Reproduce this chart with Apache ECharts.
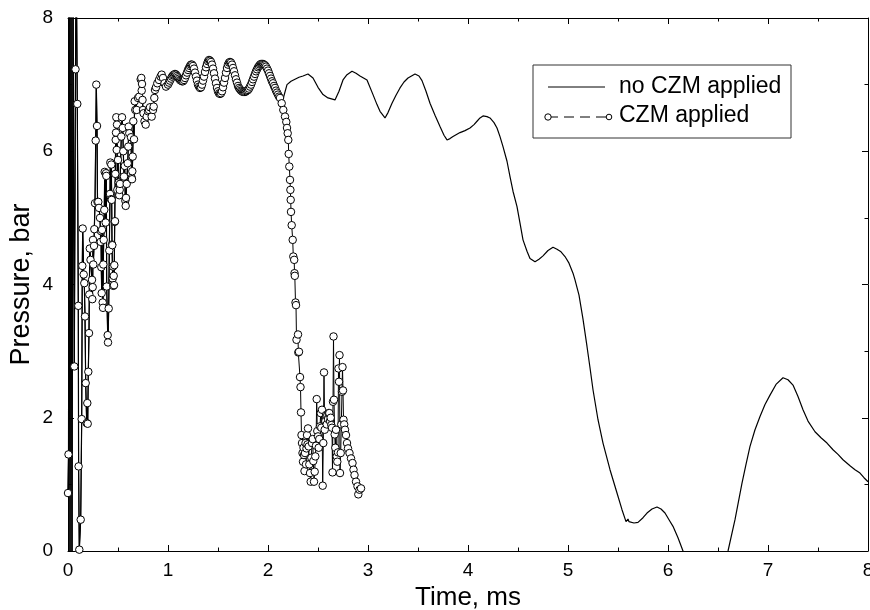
<!DOCTYPE html>
<html>
<head>
<meta charset="utf-8">
<script src="https://cdn.jsdelivr.net/npm/echarts@6/dist/echarts.min.js"></script>
<style>
  html, body { margin: 0; padding: 0; background: #fff; }
  #chart { width: 870px; height: 610px; }
</style>
</head>
<body>
<div id="chart"></div>
<script>
// Axis ticks: time in ms, pressure in bar
const timeTicks = [0, 1, 2, 3, 4, 5, 6, 7, 8];
const pressureTicks = [0, 2, 4, 6, 8];

// Both simulations follow the same history until the interface opens (~2.1 ms)
const sharedTime = [
  0.000, 0.005, 0.012, 0.020, 0.030, 0.040, 0.050, 0.063, 0.075, 0.082,
  0.093, 0.103, 0.106, 0.113, 0.127, 0.137, 0.143, 0.147, 0.157, 0.163,
  0.170, 0.177, 0.187, 0.193, 0.197, 0.203, 0.210, 0.213, 0.218, 0.225,
  0.240, 0.243, 0.247, 0.250, 0.253, 0.260, 0.263, 0.270, 0.277, 0.283,
  0.290, 0.295, 0.303, 0.310, 0.320, 0.327, 0.330, 0.333, 0.337, 0.340,
  0.347, 0.350, 0.353, 0.357, 0.363, 0.367, 0.377, 0.380, 0.383, 0.387,
  0.397, 0.400, 0.407, 0.413, 0.420, 0.423, 0.430, 0.433, 0.437, 0.440,
  0.443, 0.447, 0.450, 0.453, 0.457, 0.460, 0.463, 0.467, 0.470, 0.473,
  0.477, 0.480, 0.483, 0.487, 0.490, 0.493, 0.500, 0.507, 0.513, 0.517,
  0.520, 0.533, 0.540, 0.547, 0.553, 0.560, 0.567, 0.573, 0.577, 0.580,
  0.587, 0.597, 0.603, 0.607, 0.613, 0.630, 0.637, 0.640, 0.643, 0.647,
  0.653, 0.660, 0.667, 0.673, 0.687, 0.700, 0.713, 0.727, 0.733, 0.737,
  0.740, 0.745, 0.750, 0.755, 0.765, 0.777, 0.787, 0.800, 0.810, 0.820,
  0.837, 0.850, 0.857, 0.863, 0.870, 0.880, 0.893, 0.910, 0.925, 0.937,
  0.950, 0.965, 0.980,
  1.00, 1.01, 1.02, 1.03, 1.04, 1.05, 1.06, 1.07, 1.08, 1.09,
  1.10, 1.11, 1.12, 1.13, 1.14, 1.15, 1.16, 1.17, 1.18, 1.19,
  1.20, 1.21, 1.22, 1.23, 1.24, 1.25, 1.26, 1.27, 1.28, 1.29,
  1.30, 1.31, 1.32, 1.33, 1.34, 1.35, 1.36, 1.37, 1.38, 1.39,
  1.40, 1.41, 1.42, 1.43, 1.44, 1.45, 1.46, 1.47, 1.48, 1.49,
  1.50, 1.51, 1.52, 1.53, 1.54, 1.55, 1.56, 1.57, 1.58, 1.59,
  1.60, 1.61, 1.62, 1.63, 1.64, 1.65, 1.66, 1.67, 1.68, 1.69,
  1.70, 1.71, 1.72, 1.73, 1.74, 1.75, 1.76, 1.77, 1.78, 1.79,
  1.80, 1.81, 1.82, 1.83, 1.84, 1.85, 1.86, 1.87, 1.88, 1.89,
  1.90, 1.91, 1.92, 1.93, 1.94, 1.95, 1.96, 1.97, 1.98, 1.99,
  2.00, 2.01, 2.02, 2.03, 2.04, 2.05, 2.06, 2.07, 2.08, 2.09,
  2.10, 2.11, 2.12
];
const sharedPressure = [
  0.87, 1.45, 8.6, -0.2, 8.8, -0.2, 8.5, 2.77, 7.23, 9.0,
  6.71, 3.68, 1.27, 0.02, 0.47, 1.98, 4.28, 4.84, 4.15, 4.02,
  3.52, 2.52, 1.92, 2.22, 1.91, 2.69, 3.27, 3.85, 4.54, 4.37,
  4.07, 3.78, 3.96, 4.67, 4.30, 4.58, 4.83, 5.22, 6.16, 7.00,
  6.38, 5.24, 5.24, 5.15, 5.00, 4.64, 4.80, 4.26, 3.87, 4.82,
  3.73, 3.65, 4.30, 4.67, 5.12, 5.69, 4.93, 5.67, 5.63, 3.97,
  3.24, 3.13, 3.64, 4.51, 5.36, 5.83, 5.28, 5.80, 5.27, 4.60,
  4.59, 4.09, 4.27, 3.98, 4.13, 3.99, 4.29, 4.94, 4.95, 5.66,
  6.17, 6.28, 6.51, 6.02, 6.40, 5.42, 5.87, 5.53, 5.34, 5.42,
  5.51, 6.22, 6.51, 6.35, 6.00, 5.62, 5.78, 5.26, 5.18, 5.30,
  5.51, 5.82, 6.07, 6.37, 6.27, 6.21, 5.60, 5.58, 5.70, 5.92,
  6.45, 6.18, 6.75, 6.62, 6.62, 6.80, 6.82, 7.08, 7.10, 6.91,
  7.01, 6.77, 6.62, 6.57, 6.45, 6.40, 6.52, 6.60, 6.62, 6.66,
  6.52, 6.62, 6.67, 6.80, 6.92, 6.96, 7.02, 7.07, 7.12, 7.15,
  7.10, 7.02, 6.97,
  7.00, 7.03, 7.06, 7.09, 7.12, 7.14, 7.15, 7.16, 7.15, 7.13,
  7.11, 7.09, 7.07, 7.06, 7.05, 7.05, 7.07, 7.10, 7.14, 7.18,
  7.22, 7.25, 7.28, 7.30, 7.30, 7.28, 7.24, 7.18, 7.12, 7.06,
  7.00, 6.97, 6.95, 6.96, 7.00, 7.06, 7.12, 7.19, 7.26, 7.31,
  7.35, 7.37, 7.36, 7.34, 7.30, 7.24, 7.17, 7.09, 7.02, 6.95,
  6.90, 6.87, 6.86, 6.87, 6.90, 6.96, 7.03, 7.10, 7.18, 7.25,
  7.30, 7.33, 7.34, 7.33, 7.30, 7.25, 7.20, 7.14, 7.08, 7.03,
  6.98, 6.95, 6.93, 6.91, 6.90, 6.89, 6.89, 6.89, 6.90, 6.91,
  6.92, 6.94, 6.97, 7.00, 7.04, 7.08, 7.12, 7.16, 7.20, 7.23,
  7.26, 7.28, 7.30, 7.31, 7.31, 7.31, 7.30, 7.29, 7.27, 7.24,
  7.21, 7.17, 7.13, 7.09, 7.05, 7.02, 6.98, 6.95, 6.91, 6.88,
  6.85, 6.82, 6.80
];

// Without cohesive zone model: pressure keeps oscillating, then decays
const intactTime = [
  2.15, 2.19, 2.23, 2.27, 2.31, 2.35, 2.40, 2.45, 2.50, 2.55,
  2.60, 2.67, 2.71, 2.75, 2.79, 2.84, 2.88, 2.92, 2.99, 3.05,
  3.09, 3.12, 3.17, 3.20, 3.24, 3.28, 3.32, 3.36, 3.40, 3.47,
  3.51, 3.54, 3.58, 3.62, 3.67, 3.72, 3.76, 3.79, 3.82, 3.85,
  3.92, 3.97, 4.02, 4.06, 4.09, 4.12, 4.15, 4.19, 4.22, 4.26,
  4.29, 4.32, 4.35, 4.39, 4.42, 4.45, 4.49, 4.52, 4.55, 4.59,
  4.62, 4.67, 4.71, 4.75, 4.80, 4.85, 4.89, 4.93, 4.97, 5.01,
  5.05, 5.07, 5.11, 5.15, 5.19, 5.22, 5.25, 5.30, 5.35, 5.42,
  5.49, 5.54, 5.58, 5.59, 5.60, 5.61, 5.62, 5.66, 5.70, 5.75,
  5.79, 5.84, 5.89, 5.93, 5.97, 6.01, 6.05, 6.10, 6.15, 6.22,
  6.30, 6.40, 6.50, 6.60, 6.67, 6.74, 6.78, 6.82, 6.87, 6.92,
  6.97, 7.02, 7.08, 7.15, 7.20, 7.25, 7.30, 7.35, 7.40, 7.47,
  7.53, 7.59, 7.65, 7.70, 7.75, 7.82, 7.87, 7.92, 7.96, 8.00
];
const intactPressure = [
  6.78, 7.00, 7.05, 7.08, 7.11, 7.13, 7.16, 7.10, 6.96, 6.85,
  6.80, 6.77, 6.90, 7.07, 7.15, 7.20, 7.17, 7.13, 7.07, 6.85,
  6.70, 6.60, 6.50, 6.58, 6.72, 6.84, 6.95, 7.04, 7.10, 7.16,
  7.13, 7.06, 6.90, 6.72, 6.54, 6.37, 6.24, 6.17, 6.19, 6.22,
  6.28, 6.31, 6.35, 6.40, 6.45, 6.50, 6.53, 6.52, 6.50, 6.43,
  6.35, 6.22, 6.07, 5.85, 5.62, 5.40, 5.17, 4.92, 4.67, 4.50,
  4.39, 4.34, 4.38, 4.43, 4.51, 4.56, 4.53, 4.49, 4.42, 4.32,
  4.17, 4.07, 3.84, 3.48, 3.07, 2.75, 2.42, 1.97, 1.62, 1.22,
  0.87, 0.62, 0.44, 0.42, 0.48, 0.44, 0.43, 0.42, 0.43, 0.50,
  0.57, 0.63, 0.66, 0.63, 0.57, 0.47, 0.37, 0.20, 0.00, -0.35,
  -0.60, -0.70, -0.55, 0.00, 0.47, 1.02, 1.30, 1.57, 1.82, 2.02,
  2.20, 2.34, 2.50, 2.60, 2.57, 2.49, 2.32, 2.12, 1.95, 1.79,
  1.70, 1.62, 1.52, 1.45, 1.37, 1.28, 1.22, 1.17, 1.10, 1.04
];

// With cohesive zone model: interface fails and pressure collapses
const czmTime = [
  2.137, 2.153, 2.170, 2.183, 2.190, 2.197, 2.203, 2.207, 2.213, 2.220,
  2.224, 2.227, 2.230, 2.237, 2.247, 2.253, 2.262, 2.265, 2.268, 2.275,
  2.280, 2.285, 2.300, 2.303, 2.310, 2.320, 2.325, 2.330, 2.335, 2.340,
  2.345, 2.350, 2.355, 2.360, 2.365, 2.370, 2.375, 2.380, 2.385, 2.390,
  2.395, 2.400, 2.407, 2.413, 2.420, 2.427, 2.433, 2.440, 2.447, 2.453,
  2.460, 2.467, 2.473, 2.480, 2.487, 2.493, 2.500, 2.507, 2.513, 2.520,
  2.527, 2.533, 2.540, 2.547, 2.553, 2.560, 2.567, 2.573, 2.580, 2.587,
  2.593, 2.600, 2.607, 2.613, 2.620, 2.627, 2.633, 2.640, 2.645, 2.650,
  2.655, 2.660, 2.667, 2.673, 2.680, 2.687, 2.693, 2.700, 2.705, 2.710,
  2.715, 2.720, 2.727, 2.733, 2.740, 2.745, 2.750, 2.755, 2.762, 2.770,
  2.780, 2.790, 2.800, 2.815, 2.830, 2.845, 2.855, 2.865, 2.880, 2.895,
  2.903, 2.915, 2.930
];
const czmPressure = [
  6.72, 6.62, 6.52, 6.44, 6.35, 6.27, 6.17, 5.96, 5.77, 5.57,
  5.42, 5.27, 5.09, 4.89, 4.67, 4.42, 4.37, 4.17, 4.13, 3.73,
  3.69, 3.17, 3.25, 2.98, 2.99, 2.61, 2.46, 2.08, 1.74, 1.62,
  1.47, 1.34, 1.55, 1.44, 1.20, 1.47, 1.62, 1.30, 1.54, 1.74,
  1.60, 1.84, 1.57, 1.30, 1.17, 1.04, 1.40, 1.62, 1.68, 1.35,
  1.04, 1.19, 1.42, 1.58, 2.28, 1.80, 1.72, 1.55, 1.68, 1.87,
  2.07, 1.85, 2.12, 0.98, 1.62, 2.68, 1.82, 1.95, 2.04, 1.90,
  2.04, 1.98, 2.07, 2.07, 1.95, 2.00, 1.89, 1.85, 1.18, 2.24,
  3.22, 2.27, 1.75, 1.55, 1.82, 1.42, 1.34, 1.48, 2.74, 2.54,
  2.94, 1.17, 1.47, 1.90, 2.39, 2.76, 2.41, 1.97, 1.90, 1.82,
  1.74, 1.62, 1.54, 1.47, 1.39, 1.32, 1.22, 1.14, 1.04, 0.97,
  0.85, 0.92, 0.94
];

const pairs = (ts, ps) => ts.map((t, i) => [t, ps[i]]);
const intactData = pairs(sharedTime.concat(intactTime), sharedPressure.concat(intactPressure));
const czmData = pairs(sharedTime.concat(czmTime), sharedPressure.concat(czmPressure));

const FONT = '"Liberation Sans", Arial, Helvetica, sans-serif';
const frameLine = { show: true, onZero: false, lineStyle: { color: '#000', width: 1 } };
const majorTick = { show: true, inside: true, length: 6, lineStyle: { color: '#000', width: 1 } };
const minorTick = { show: true, splitNumber: 2, length: 3.5, lineStyle: { color: '#000', width: 1 } };
const tickLabel = { fontSize: 19, color: '#000', fontFamily: FONT };

function timeAxis(position, withLabels) {
  return {
    type: 'value', position,
    min: timeTicks[0], max: timeTicks[timeTicks.length - 1], interval: timeTicks[1] - timeTicks[0],
    axisLine: frameLine, axisTick: majorTick, minorTick,
    splitLine: { show: false }, minorSplitLine: { show: false },
    axisLabel: withLabels ? Object.assign({ margin: 10 }, tickLabel) : { show: false },
    name: withLabels ? 'Time, ms' : '',
    nameLocation: 'middle', nameGap: 34,
    nameTextStyle: { fontSize: 26, color: '#000', fontFamily: FONT }
  };
}
function pressureAxis(position, withLabels) {
  return {
    type: 'value', position,
    min: pressureTicks[0], max: pressureTicks[pressureTicks.length - 1], interval: pressureTicks[1] - pressureTicks[0],
    axisLine: frameLine, axisTick: majorTick, minorTick,
    splitLine: { show: false }, minorSplitLine: { show: false },
    axisLabel: withLabels ? Object.assign({ margin: 15 }, tickLabel) : { show: false },
    name: withLabels ? 'Pressure, bar' : '',
    nameLocation: 'middle', nameGap: 33, nameMoveOverlap: false,
    nameTextStyle: { fontSize: 27, color: '#000', fontFamily: FONT }
  };
}

const chart = echarts.init(document.getElementById('chart'), null, { renderer: 'canvas' });
chart.setOption({
  animation: false,
  backgroundColor: '#fff',
  grid: { left: 68, right: 2, top: 18, bottom: 59, containLabel: false, outerBoundsMode: 'none' },
  xAxis: [timeAxis('bottom', true), timeAxis('top', false)],
  yAxis: [pressureAxis('left', true), pressureAxis('right', false)],
  series: [
    {
      name: 'no CZM applied', type: 'line', xAxisIndex: 0, yAxisIndex: 0,
      data: intactData, symbol: 'none', clip: true,
      lineStyle: { color: '#000', width: 1.2 },
      emphasis: { disabled: true }
    },
    {
      name: 'CZM applied', type: 'line', xAxisIndex: 0, yAxisIndex: 0,
      data: czmData, symbol: 'circle', symbolSize: 7.5, showAllSymbol: true, clip: true,
      lineStyle: { color: '#000', width: 1 },
      itemStyle: { color: '#fff', borderColor: '#000', borderWidth: 1 },
      emphasis: { disabled: true }
    }
  ],
  graphic: [
    { type: 'rect', z: 100, shape: { x: 533, y: 65, width: 258, height: 73 },
      style: { fill: '#fff', stroke: '#333', lineWidth: 1 } },
    { type: 'line', z: 101, shape: { x1: 548, y1: 87, x2: 605, y2: 87 },
      style: { stroke: '#000', lineWidth: 1 } },
    { type: 'text', z: 101, x: 619, y: 87,
      style: { text: 'no CZM applied', font: '23px ' + FONT, fill: '#000', verticalAlign: 'middle' } },
    { type: 'line', z: 101, shape: { x1: 548, y1: 117, x2: 609, y2: 117 },
      style: { stroke: '#000', lineWidth: 1, lineDash: [10, 6] } },
    { type: 'circle', z: 102, shape: { cx: 548, cy: 117, r: 3.2 },
      style: { fill: '#fff', stroke: '#000', lineWidth: 1 } },
    { type: 'circle', z: 102, shape: { cx: 609, cy: 117, r: 2.8 },
      style: { fill: '#fff', stroke: '#000', lineWidth: 1 } },
    { type: 'text', z: 101, x: 619, y: 116,
      style: { text: 'CZM applied', font: '23px ' + FONT, fill: '#000', verticalAlign: 'middle' } }
  ]
});
</script>
</body>
</html>
